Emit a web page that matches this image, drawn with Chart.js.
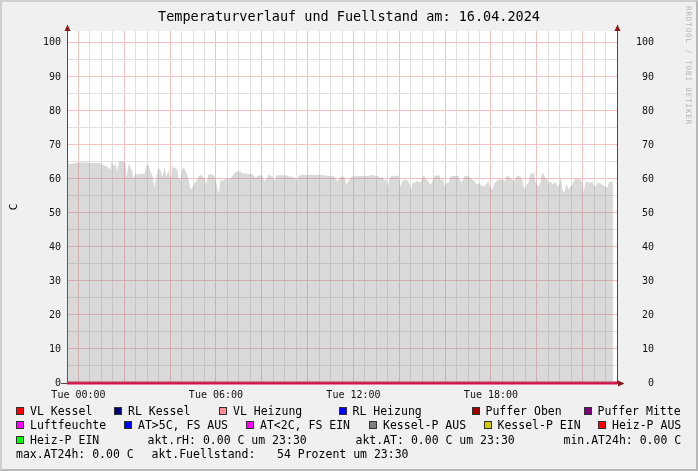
<!DOCTYPE html>
<html><head><meta charset="utf-8">
<script src="https://cdn.jsdelivr.net/npm/chart.js@4"></script>
<style>
html,body{margin:0;padding:0;background:#f0f0f0;}
#wrap{position:relative;width:698px;height:471px;overflow:hidden;background:#f0f0f0;}
#frame{position:absolute;left:0;top:0;width:698px;height:471px;box-sizing:border-box;border:2px solid #cfcfcf;border-right-color:#b8b8b8;border-bottom-color:#b8b8b8;pointer-events:none;}
canvas{position:absolute;left:0;top:0;}
.lg{position:absolute;font-family:"DejaVu Sans Mono",monospace;font-size:11.5px;color:#000;white-space:pre;line-height:14px;}
.sw{position:absolute;width:6px;height:6px;border:1px solid #303030;}
#wm{position:absolute;left:684px;top:6px;writing-mode:vertical-rl;font-family:"DejaVu Sans Mono",monospace;font-size:7.5px;letter-spacing:0.9px;color:#b4b4b4;white-space:pre;}
</style>
</head><body>
<div id="wrap">
<canvas id="c" width="698" height="471"></canvas>
<div id="wm">RRDTOOL / TOBI OETIKER</div>
<div id="frame"></div>
</div>
<script>
// ---- data (minutes relative to Tue 00:00) ----
const times = [-30,-18,-8,3,13,24,34,45,55,65,76,84,86,92,97,102,107,115,123,126,131,136,141,144,149,157,165,173,178,183,188,194,199,204,209,215,220,225,230,236,241,246,254,259,262,267,272,278,283,288,293,298,304,309,314,319,325,330,335,340,346,351,356,361,367,372,377,382,387,393,398,403,408,414,419,424,429,435,440,445,450,456,461,466,471,476,482,487,492,497,503,508,513,518,524,529,534,539,545,550,555,560,566,571,576,586,597,607,618,628,639,649,660,670,678,686,696,702,709,717,728,738,749,759,770,780,785,791,796,801,806,809,817,827,838,843,848,853,859,864,869,872,874,880,885,890,895,901,906,911,916,922,927,932,937,945,950,954,958,963,969,974,979,990,995,1000,1005,1011,1021,1026,1031,1037,1042,1047,1052,1063,1073,1079,1084,1089,1100,1110,1118,1120,1126,1131,1136,1141,1147,1152,1157,1162,1168,1173,1178,1183,1194,1196,1204,1209,1212,1217,1222,1228,1230,1236,1241,1246,1251,1254,1259,1262,1264,1267,1272,1278,1283,1288,1293,1299,1304,1314,1319,1322,1327,1330,1335,1340,1346,1348,1353,1359,1366,1372,1380,1385,1390,1400];
const areaValues = [64.5,64.5,64.7,64.8,64.8,64.8,64.7,64.7,64.7,64.2,63.5,62.8,65.1,63.8,64.3,62.5,65.2,65.2,64.8,60.2,64.5,63.5,62.0,60.2,61.5,61.2,61.5,61.5,64.0,64.3,62.5,60.7,57.5,60.5,63.2,62.5,60.5,63.7,60.7,62.7,59.8,63.5,63.2,62.7,60.2,59.8,63.2,63.0,61.7,60.2,57.0,57.3,58.8,59.3,60.7,61.2,60.7,60.2,58.5,61.2,61.3,61.3,60.7,58.8,55.5,59.8,59.3,59.8,60.2,60.0,60.2,60.7,61.7,62.2,62.2,62.2,61.7,61.6,61.5,61.4,61.5,61.2,60.7,60.5,61.0,61.0,61.0,59.3,60.0,61.2,61.0,60.7,59.3,61.0,61.1,61.1,61.1,61.1,61.1,60.7,60.7,60.5,60.6,59.5,60.9,61.3,61.1,61.3,61.1,61.3,61.1,61.0,60.8,60.7,59.3,60.7,60.7,58.3,59.8,60.7,60.9,60.9,60.9,60.9,61.2,60.8,60.9,60.2,60.7,59.3,60.2,57.8,60.7,60.9,61.0,57.8,59.3,59.8,59.8,59.3,57.8,56.8,58.8,58.8,59.3,59.3,58.8,60.7,60.9,59.8,59.3,58.3,59.3,60.9,61.0,61.0,59.3,60.7,57.8,58.8,58.8,60.7,60.9,60.9,60.9,59.3,59.3,60.9,60.9,60.2,59.8,59.3,58.3,58.8,58.3,57.8,59.3,57.3,57.0,58.8,59.8,59.8,59.3,60.7,60.9,60.0,59.8,59.3,60.7,60.9,60.8,59.3,56.8,58.3,58.8,61.5,61.7,59.3,57.8,58.8,61.0,61.9,60.2,59.8,58.8,59.3,58.3,58.8,58.8,57.8,58.3,60.2,59.8,56.8,55.8,58.8,56.8,57.8,58.3,59.8,60.0,59.8,58.8,55.8,58.8,59.3,59.0,58.8,59.3,58.3,57.8,58.8,58.8,58.3,57.6,57.6,59.1,59.1];
const zeroTimes = [-30, 1410];
const zeroValues = [0, 0];
const xLabelMinutes = [0, 360, 720, 1080];
const xLabelTexts = ['Tue 00:00', 'Tue 06:00', 'Tue 12:00', 'Tue 18:00'];
const legendNames = ['VL Kessel','RL Kessel','VL Heizung','RL Heizung','Puffer Oben','Puffer Mitte','Luftfeuchte','AT>5C, FS AUS','AT<2C, FS EIN','Kessel-P AUS','Kessel-P EIN','Heiz-P AUS','Heiz-P EIN'];
const legendColors = ['#ff0000','#00007f','#ff8c9c','#0000ff','#a00000','#800080','#ff00ff','#0000ff','#ff00ff','#808080','#cccc00','#ff0000','#00ff00'];
const commentTexts = ['akt.rH: 0.00 C um 23:30','akt.AT: 0.00 C um 23:30','min.AT24h: 0.00 C','max.AT24h: 0.00 C','akt.Fuellstand:','54 Prozent um 23:30'];
const titleText = 'Temperaturverlauf und Fuellstand am: 16.04.2024';

// ---- layout (positions only) ----
const legendPos = [[30,0],[128,0],[233,0],[352.5,0],[485.5,0],[597.5,0],[30,1],[138,1],[260,1],[383,1],[497.5,1],[612,1],[30,2]];
const commentPos = [[147.5,2],[355.5,2],[563.5,2],[16,3],[151.5,3],[277,3]];
const rowCenter = [411, 425, 439.5, 453.5];

const wrap = document.getElementById('wrap');
legendNames.forEach((n,i)=>{
  const [x,r] = legendPos[i];
  const sw = document.createElement('div');
  sw.className='sw'; sw.style.left=(x-14)+'px'; sw.style.top=(rowCenter[r]-4)+'px';
  sw.style.background=legendColors[i];
  wrap.appendChild(sw);
  const t = document.createElement('div');
  t.className='lg'; t.textContent=n; t.style.left=x+'px'; t.style.top=(rowCenter[r]-7)+'px';
  wrap.appendChild(t);
});
commentTexts.forEach((n,i)=>{
  const [x,r] = commentPos[i];
  const t = document.createElement('div');
  t.className='lg'; t.textContent=n; t.style.left=x+'px'; t.style.top=(rowCenter[r]-7)+'px';
  wrap.appendChild(t);
});

const MONO = '"DejaVu Sans Mono", monospace';
const GRID_MINOR = '#e0e0e0';
const GRID_MAJOR = '#f5c0c0';

const rrdDecor = {
  id: 'rrdDecor',
  beforeDraw(chart) {
    const {ctx, chartArea: a} = chart;
    ctx.save();
    ctx.fillStyle = '#ffffff';
    ctx.fillRect(a.left, a.top, a.right - a.left, a.bottom - a.top);
    ctx.restore();
  },
  beforeDatasetsDraw(chart) {
    const {ctx, chartArea: a} = chart;
    ctx.save();
    ctx.strokeStyle = '#4a4a4a';
    ctx.lineWidth = 1;
    ctx.beginPath();
    ctx.moveTo(a.left + 0.5, a.top - 1); ctx.lineTo(a.left + 0.5, a.bottom + 1);
    ctx.moveTo(a.right + 0.5, a.top - 1); ctx.lineTo(a.right + 0.5, a.bottom + 1);
    ctx.moveTo(a.left - 6, a.bottom + 0.5); ctx.lineTo(a.right + 2, a.bottom + 0.5);
    ctx.stroke();
    ctx.restore();
  },
  afterDatasetsDraw(chart) {
    const {ctx, chartArea: a} = chart;
    ctx.save();
    ctx.fillStyle = '#8b1515';
    const up = (x) => { ctx.beginPath(); ctx.moveTo(x, a.top - 6.5); ctx.lineTo(x - 3, a.top); ctx.lineTo(x + 3, a.top); ctx.closePath(); ctx.fill(); };
    up(a.left + 0.5); up(a.right + 0.5);
    ctx.beginPath(); ctx.moveTo(a.right + 7.5, a.bottom + 0.5); ctx.lineTo(a.right + 1, a.bottom - 2.5); ctx.lineTo(a.right + 1, a.bottom + 3.5); ctx.closePath(); ctx.fill();
    ctx.restore();
  }
};

new Chart(document.getElementById('c'), {
  type: 'line',
  data: {
    datasets: [
      {
        label: 'Fuellstand-Flaeche',
        data: times.map((t,i)=>({x:t, y:areaValues[i]})),
        fill: 'origin',
        backgroundColor: 'rgba(128,128,128,0.3)',
        borderWidth: 0,
        borderColor: 'rgba(0,0,0,0)',
        pointRadius: 0,
        tension: 0
      },
      {
        label: 'Linien bei 0',
        data: zeroTimes.map((t,i)=>({x:t, y:zeroValues[i]})),
        fill: false,
        borderColor: '#dc1048',
        borderWidth: 3,
        pointRadius: 0,
        clip: false
      }
    ]
  },
  options: {
    responsive: false,
    animation: false,
    layout: { padding: 0 },
    plugins: {
      legend: { display: false },
      tooltip: { enabled: false },
      title: {
        display: true, text: titleText, color: '#000',
        font: { family: MONO, size: 13.5, weight: 'normal', lineHeight: 1.2 },
        padding: { top: 9.5, bottom: 5.3 }
      }
    },
    scales: {
      x: {
        type: 'linear', min: -30, max: 1410,
        afterFit(s) { s.height = 88; },
        border: { display: false },
        grid: {
          drawTicks: false,
          color: (c) => (c.tick && c.tick.value % 120 === 0) ? GRID_MAJOR : GRID_MINOR
        },
        ticks: {
          stepSize: 30, autoSkip: false, maxRotation: 0, minRotation: 0, includeBounds: false,
          padding: 6, color: '#111', font: { family: MONO, size: 10 },
          callback: (v) => { const k = xLabelMinutes.indexOf(v); return k >= 0 ? xLabelTexts[k] : ''; }
        }
      },
      y: {
        position: 'left', min: 0, max: 103.5,
        afterFit(s) { s.width = 67; },
        border: { display: false },
        title: { display: true, text: 'C', color: '#000', font: { family: MONO, size: 11 }, padding: { top: 7.5, bottom: 0 } },
        grid: {
          drawTicks: false,
          color: (c) => (c.tick && c.tick.value % 10 === 0) ? GRID_MAJOR : GRID_MINOR
        },
        ticks: {
          stepSize: 5, includeBounds: false, padding: 6, color: '#111', font: { family: MONO, size: 10 },
          callback: (v) => v % 10 === 0 ? String(v) : ''
        }
      },
      y2: {
        position: 'right', min: 0, max: 103.5,
        afterFit(s) { s.width = 81; },
        border: { display: false },
        grid: { drawOnChartArea: false, drawTicks: false },
        ticks: {
          stepSize: 5, includeBounds: false, padding: 19, color: '#111', font: { family: MONO, size: 10 },
          callback: (v) => v % 10 === 0 ? String(v).padStart(3, ' ') : ''
        }
      }
    }
  },
  plugins: [rrdDecor]
});
</script>
</body></html>
